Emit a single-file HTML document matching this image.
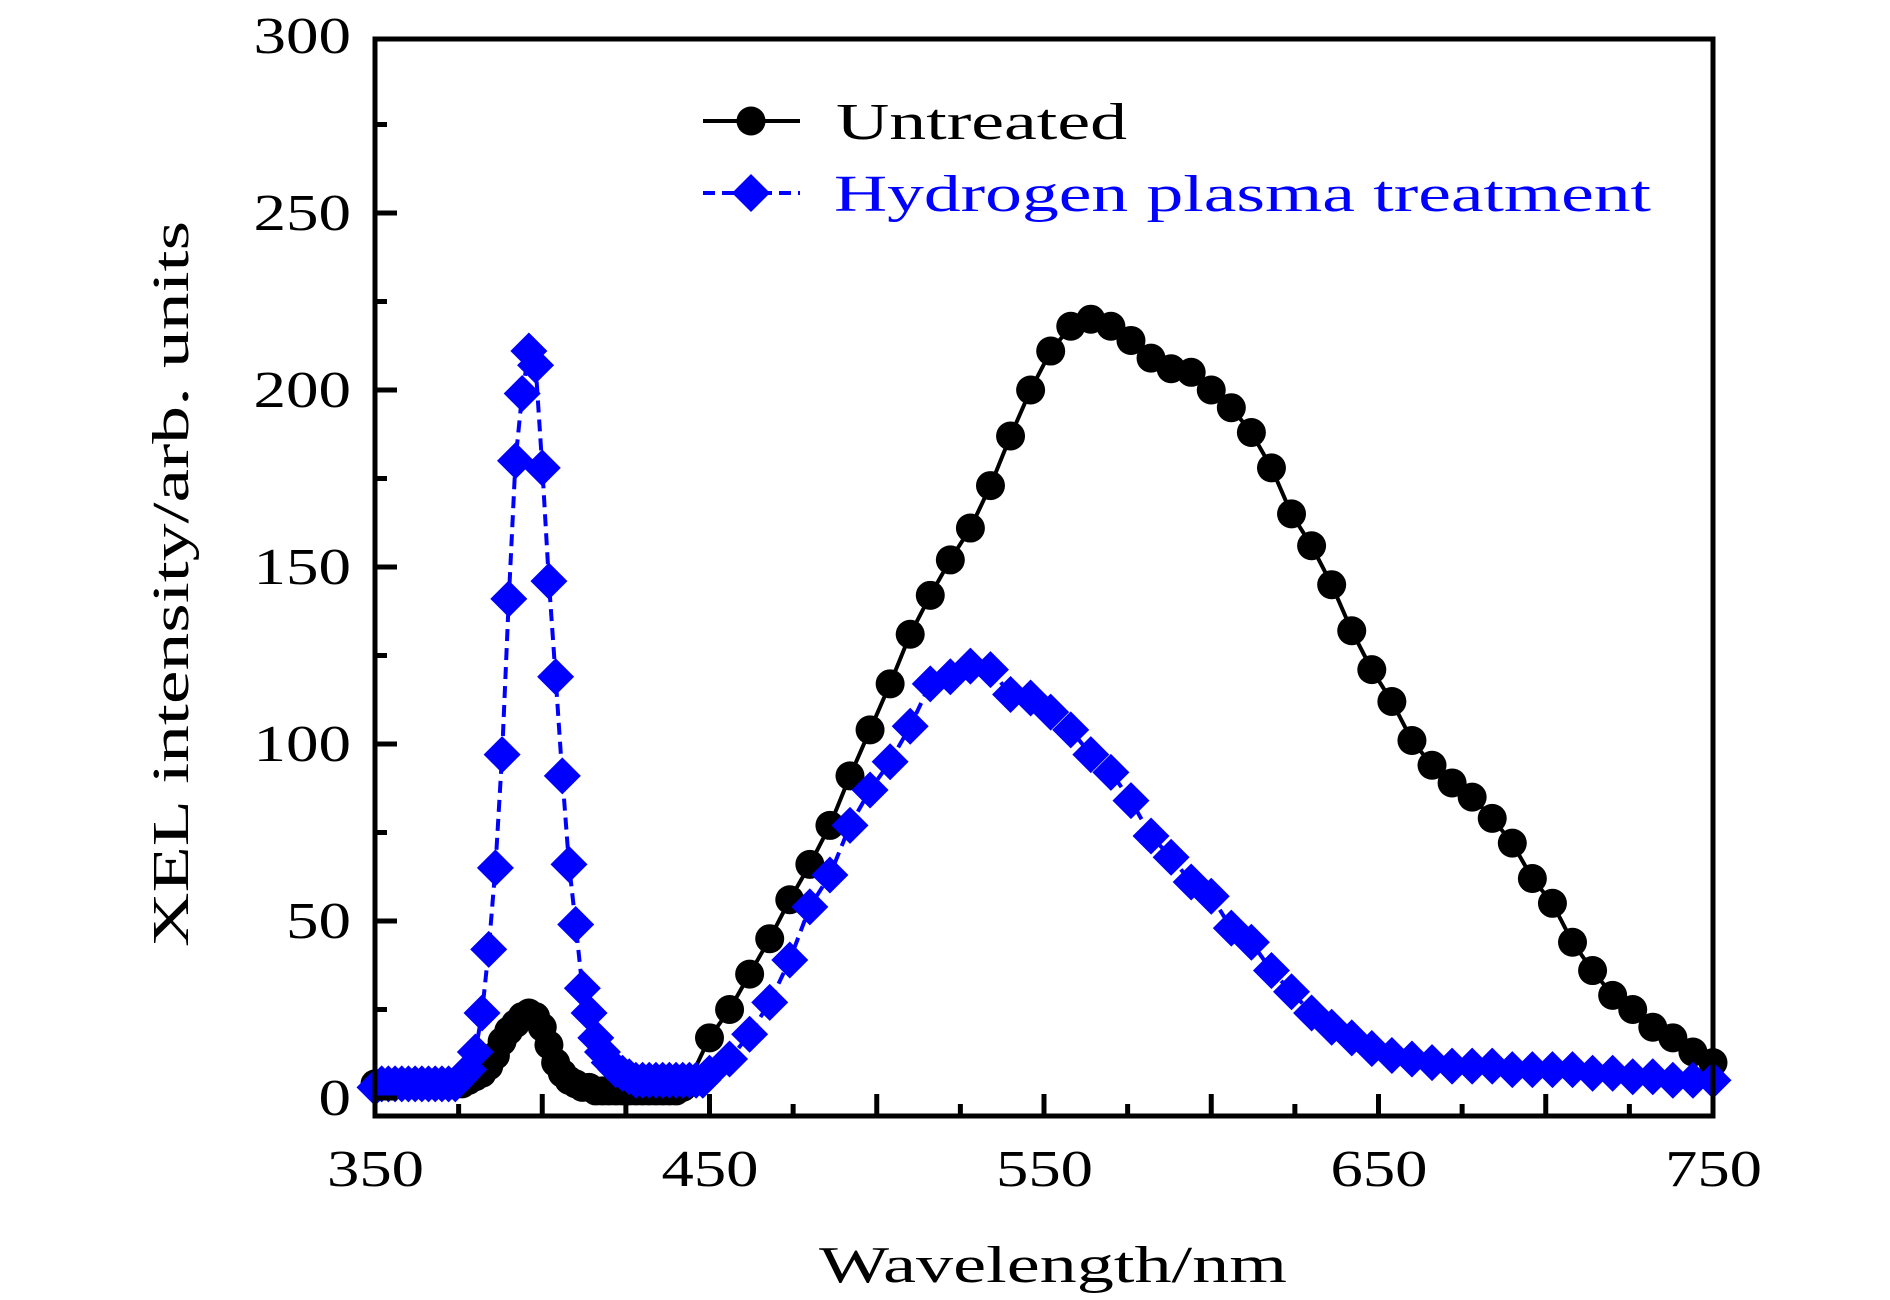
<!DOCTYPE html>
<html><head><meta charset="utf-8"><style>
html,body{margin:0;padding:0;background:#fff;}
svg{display:block;font-family:"Liberation Serif",serif;}
</style></head><body>
<svg id="chart" width="1890" height="1300" viewBox="0 0 1890 1300" xmlns="http://www.w3.org/2000/svg"></svg>
<script>
const untreatedWaves = [350,352,354,356,358,360,362,364,366,368,370,372,374,376,378,380,382,384,386,388,390,392,394,396,398,400,402,404,406,408,410,412,414,416,418,420,422,424,426,428,430,432,434,436,438,440,442,444,
450,456,462,468,474,480,486,492,498,504,510,516,522,528,534,540,546,552,558,564,570,576,582,588,594,600,606,612,618,624,630,636,642,648,654,660,666,672,678,684,690,696,702,708,714,720,726,732,738,744,750];
const untreatedValues = [4,4,4,4,4,4,4,4,4,4,4,4,4,4,5,6,7,9,12,16,19,21,23,24,23,20,15,10,7,5,4,3,3,2,2,2,2,2,2,2,2,2,2,2,2,2,3,5,
17,25,35,45,56,66,77,91,104,117,131,142,152,161,173,187,200,211,218,220,218,214,209,206,205,200,195,188,178,165,156,145,132,121,112,101,94,89,85,79,72,62,55,44,36,29,25,20,17,13,10];
const plasmaWaves = [350,352,354,356,358,360,362,364,366,368,370,372,374,376,378,380,382,384,386,388,390,392,394,396,398,400,402,404,406,408,410,412,414,416,418,420,422,424,426,428,430,432,434,436,438,440,442,444,446,448,
450,456,462,468,474,480,486,492,498,504,510,516,522,528,534,540,546,552,558,564,570,576,582,588,594,600,606,612,618,624,630,636,642,648,654,660,666,672,678,684,690,696,702,708,714,720,726,732,738,744,750];
const plasmaValues = [3,4,4,4,4,4,4,4,4,4,4,4,4,6,8,13,24,42,65,97,141,180,199,211,207,178,146,119,91,66,49,31,24,17,13,10,8,7,6,5,5,5,5,5,5,5,5,5,5,5,
7,11,18,27,39,54,63,77,87,95,105,117,119,122,121,114,113,109,104,97,92,84,74,68,61,57,48,44,36,30,24,20,17,14,12,11,10,9,9,9,8,8,8,8,7,7,6,6,5,5,5];
const xTickLabels = [350,450,550,650,750];
const yTickLabels = [0,50,100,150,200,250,300];

const NS="http://www.w3.org/2000/svg";
const svg=document.getElementById('chart');
const L=375,R=1713,T=39,B=1116;
function xs(w){return L+(w-350)*(R-L)/400;}
function ys(v){return 1098-v*3.54;}
function mk(tag,attrs,parent){const e=document.createElementNS(NS,tag);for(const k in attrs)e.setAttribute(k,attrs[k]);(parent||svg).appendChild(e);return e;}

function series(waves,vals,color,dash,name){
  const g=mk('g',{});
  
  
  const pts=waves.map((w,i)=>xs(w).toFixed(1)+','+ys(vals[i]).toFixed(1)).join(' ');
  const pl=mk('polyline',{points:pts,fill:'none',stroke:color,'stroke-width':4,'stroke-dasharray':dash},g);
  
  
  return g;
}
const gU=series(untreatedWaves,untreatedValues,'#000','none','untreated-series');
untreatedWaves.forEach((w,i)=>{
  const c=mk('circle',{cx:xs(w),cy:ys(untreatedValues[i]),r:14.5,fill:'#000'},gU);
  
  
});
const gP=series(plasmaWaves,plasmaValues,'#0000ff','12,7','plasma-series');
plasmaWaves.forEach((w,i)=>{
  const x=xs(w),y=ys(plasmaValues[i]),d=18.5;
  const p=mk('polygon',{points:`${x},${y-d} ${x+d},${y} ${x},${y+d} ${x-d},${y}`,fill:'#0000ff'},gP);
  
  
});

const fr=mk('rect',{x:L,y:T,width:R-L,height:B-T,fill:'none',stroke:'#000','stroke-width':5});



for(let w=375;w<750;w+=25){
  const len=(w%50===0)?22:12;
  const t=mk('line',{x1:xs(w),x2:xs(w),y1:B,y2:B-len,stroke:'#000','stroke-width':5});
  
  
}
xTickLabels.forEach(v=>{
  const t=mk('text',{x:xs(v)-48,y:1186,'font-size':52,fill:'#000',textLength:97,lengthAdjust:'spacingAndGlyphs'});
  t.textContent=v;
  
  
});
for(let v=25;v<300;v+=25){
  const len=(v%50===0)?22:12;
  const t=mk('line',{x1:L,x2:L+len,y1:ys(v),y2:ys(v),stroke:'#000','stroke-width':5});
  
  
}
{const t=mk('line',{x1:L,x2:L+22,y1:ys(0),y2:ys(0),stroke:'#000','stroke-width':5});

}
yTickLabels.forEach(v=>{
  const w=String(v).length*32.5;
  const t=mk('text',{x:351-w,y:ys(v)+17,'font-size':52,fill:'#000',textLength:w,lengthAdjust:'spacingAndGlyphs'});
  t.textContent=v;
  
  
});
const xt=mk('text',{x:819,y:1282,'font-size':52,fill:'#000',textLength:468,lengthAdjust:'spacingAndGlyphs'});
xt.textContent='Wavelength/nm';


const yt=mk('text',{x:-363,y:0,'font-size':52,fill:'#000',transform:'translate(188,584) rotate(-90)',textLength:726,lengthAdjust:'spacingAndGlyphs'});
yt.textContent='XEL intensity/arb. units';



const lg=mk('g',{});


const e1=mk('g',{},lg);


mk('line',{x1:703,x2:800,y1:121,y2:121,stroke:'#000','stroke-width':4},e1);
mk('circle',{cx:751,cy:121,r:14.5,fill:'#000'},e1);
const l1=mk('text',{x:836,y:139,'font-size':52,fill:'#000',textLength:291,lengthAdjust:'spacingAndGlyphs'},e1);
l1.textContent='Untreated';
const e2=mk('g',{},lg);


mk('line',{x1:703,x2:800,y1:193,y2:193,stroke:'#0000ff','stroke-width':4,'stroke-dasharray':'12,7'},e2);
mk('polygon',{points:'751,174 770,193 751,212 732,193',fill:'#0000ff'},e2);
const l2=mk('text',{x:834,y:211,'font-size':52,fill:'#0000ff',textLength:817,lengthAdjust:'spacingAndGlyphs'},e2);
l2.textContent='Hydrogen plasma treatment';
</script>
</body></html>
